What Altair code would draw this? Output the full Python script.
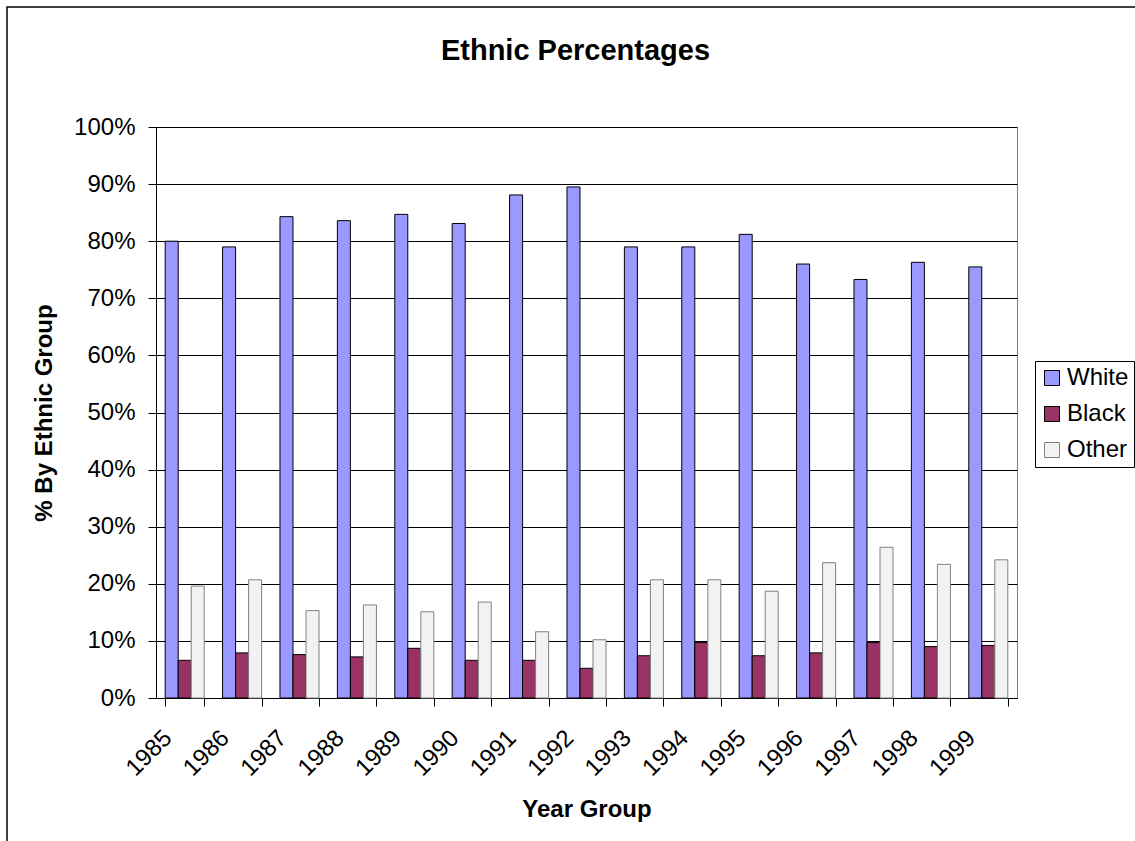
import altair as alt
import pandas as pd

years = ["1985", "1986", "1987", "1988", "1989", "1990", "1991", "1992",
         "1993", "1994", "1995", "1996", "1997", "1998", "1999"]
groups = ["White", "Black", "Other"]
white = [80.0, 79.0, 84.3, 83.6, 84.7, 83.1, 88.1, 89.5, 79.0, 79.0, 81.2, 76.0, 73.3, 76.3, 75.5]
black = [6.6, 7.9, 7.6, 7.2, 8.7, 6.6, 6.6, 5.2, 7.4, 9.7, 7.4, 7.9, 9.7, 9.0, 9.2]
other = [19.6, 20.7, 15.3, 16.3, 15.1, 16.8, 11.6, 10.2, 20.7, 20.7, 18.7, 23.7, 26.4, 23.4, 24.2]
fills = ["#9999FF", "#993366", "#F2F2F2"]
strokes = ["#000000", "#000000", "#808080"]

rows = []
for g, vals in zip(groups, [white, black, other]):
    for y, v in zip(years, vals):
        rows.append({"Year": y, "Group": g, "Share": v / 100.0})
df = pd.DataFrame(rows)

FONT = "Liberation Sans"
W, H = 861, 571

legend = alt.Legend(
    title=None, orient="none", legendX=879, legendY=234,
    strokeColor="#000000", fillColor="#FFFFFF", padding=5, rowPadding=12,
    symbolType="square", symbolSize=225, symbolStrokeWidth=1.5,
    labelFont=FONT, labelFontSize=24, labelColor="#000000", labelOffset=3,
)

bars = alt.Chart(df).mark_bar().encode(
    x=alt.X(
        "Year:N", sort=years,
        scale=alt.Scale(paddingInner=0.32, paddingOuter=0.16),
        axis=alt.Axis(
            title="Year Group", labelAngle=-45, labelAlign="right", labelBaseline="middle",
            tickBand="extent", tickSize=8, labelPadding=28, labelOffset=-17,
            titleX=W / 2, titleY=118, titleBaseline="alphabetic", titleAlign="center",
            grid=False,
        ),
    ),
    xOffset=alt.XOffset("Group:N", sort=groups, scale=alt.Scale(paddingInner=0, paddingOuter=0)),
    y=alt.Y(
        "Share:Q",
        scale=alt.Scale(domain=[0, 1], nice=False),
        axis=alt.Axis(
            title="% By Ethnic Group", format="%", tickCount=10, tickSize=8, labelPadding=13,
            titleX=-105, titleY=H / 2, titleBaseline="alphabetic", titleAngle=-90, titleAlign="center",
            grid=True,
        ),
    ),
    fill=alt.Fill("Group:N", sort=groups, scale=alt.Scale(domain=groups, range=fills), legend=legend),
    stroke=alt.Stroke("Group:N", sort=groups, scale=alt.Scale(domain=groups, range=strokes), legend=legend),
    strokeWidth=alt.StrokeWidth("Group:N", scale=alt.Scale(domain=groups, range=[1, 1, 2]), legend=None),
)

frame = alt.Chart(pd.DataFrame({"k": [0]})).mark_rect(
    fill=None, stroke="#000000", strokeWidth=1.5
).encode(
    x=alt.value(-149), x2=alt.value(W + 200), y=alt.value(-120), y2=alt.value(H + 200)
)

chart = alt.layer(frame, bars).properties(
    width=W, height=H,
    background="#FFFFFF",
    autosize=alt.AutoSizeParams(type="none"),
    padding={"left": 156, "top": 127, "right": 118, "bottom": 143},
    title=alt.Title(
        "Ethnic Percentages", font=FONT, fontSize=29, fontWeight="bold", color="#000000",
        anchor="middle", frame="group", offset=-83, baseline="alphabetic", dx=-11,
    ),
).configure_view(
    stroke="#808080", strokeWidth=1
).configure_axis(
    labelFont=FONT, labelFontSize=24, labelColor="#000000",
    titleFont=FONT, titleFontSize=24, titleFontWeight="bold", titleColor="#000000",
    domainColor="#000000", domainWidth=1, tickColor="#000000", tickWidth=1,
    gridColor="#000000", gridWidth=1,
)

chart.save("out.html", embed_options={"renderer": "svg", "actions": False})
